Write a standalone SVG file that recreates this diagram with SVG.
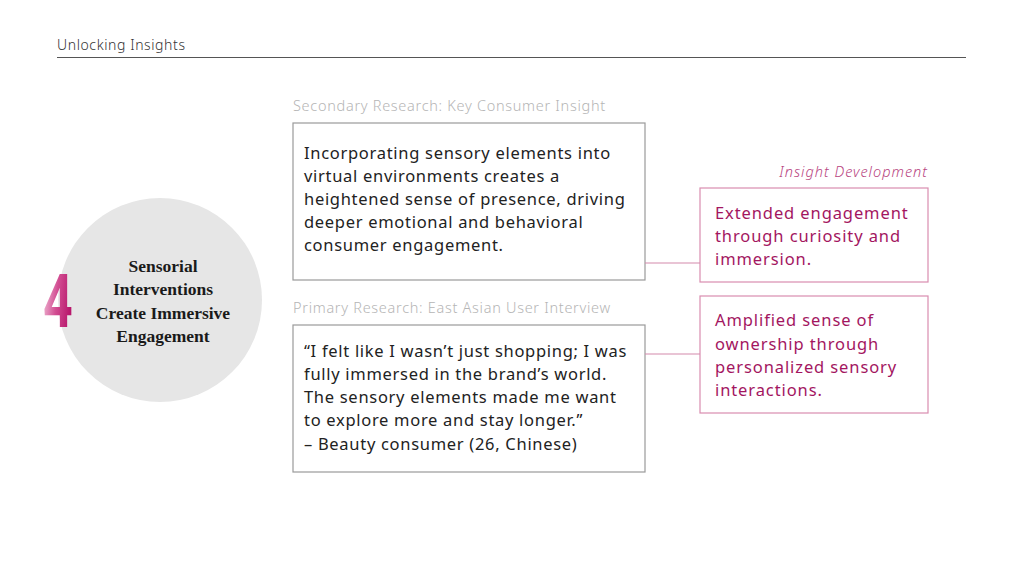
<svg xmlns="http://www.w3.org/2000/svg" width="1024" height="582" viewBox="0 0 1024 582">
<defs>
<linearGradient id="g4" x1="0" y1="0" x2="1" y2="0.3">
<stop offset="0" stop-color="#f6d3e4"/>
<stop offset="0.55" stop-color="#d24d92"/>
<stop offset="1" stop-color="#b8186c"/>
</linearGradient>
<style>
.hdr{font-family:"Noto Sans","Liberation Sans",sans-serif;font-size:14px;fill:#333;font-weight:300;letter-spacing:0.6px}
.lbl{font-family:"Noto Sans","Liberation Sans",sans-serif;font-size:14.5px;fill:#b5b5b5;font-weight:300;letter-spacing:0.7px}
.body{font-family:"Noto Sans","Liberation Sans",sans-serif;font-size:16.5px;fill:#222;letter-spacing:0.7px}
.ins{font-family:"Noto Sans","Liberation Sans",sans-serif;font-size:16.5px;fill:#a3165f;letter-spacing:0.9px}
.insl{font-family:"Noto Sans","Liberation Sans",sans-serif;font-size:14.5px;fill:#b8457f;font-style:italic;font-weight:300;letter-spacing:1px}
.ttl{font-family:"Liberation Serif","DejaVu Serif",serif;font-size:17.5px;font-weight:bold;fill:#1a1a1a}
.box{fill:#fff;stroke:#9a9a9a;stroke-width:1.2}
.ibox{fill:#fff;stroke:#d98db0;stroke-width:1.2}
.conn{stroke:#d48aab;stroke-width:1.2;fill:none}
</style>
</defs>
<rect width="1024" height="582" fill="#fff"/>
<g id="header">
<text class="hdr" x="57" y="50">Unlocking Insights</text>
<line x1="57" y1="57.5" x2="966" y2="57.5" stroke="#555" stroke-width="1"/>
</g>
<g id="topic">
<circle cx="160" cy="300" r="102" fill="#e6e6e6"/>
<text x="0" y="0" transform="translate(43,327) scale(0.7,1)" font-family="Roboto,'DejaVu Sans',sans-serif" font-weight="bold" font-size="74" fill="url(#g4)">4</text>
<text class="ttl" text-anchor="middle"><tspan x="163" y="272">Sensorial</tspan><tspan x="163" y="295">Interventions</tspan><tspan x="163" y="319">Create Immersive</tspan><tspan x="163" y="342">Engagement</tspan></text>
</g>
<g id="secondary">
<text class="lbl" x="293" y="111">Secondary Research: Key Consumer Insight</text>
<rect class="box" x="293" y="123" width="352" height="157"/>
<text class="body"><tspan x="304" y="159">Incorporating sensory elements into</tspan><tspan x="304" y="182">virtual environments creates a</tspan><tspan x="304" y="205">heightened sense of presence, driving</tspan><tspan x="304" y="228">deeper emotional and behavioral</tspan><tspan x="304" y="251">consumer engagement.</tspan></text>
</g>
<g id="primary">
<text class="lbl" x="293" y="313">Primary Research: East Asian User Interview</text>
<rect class="box" x="293" y="325" width="352" height="147"/>
<text class="body"><tspan x="304" y="357">“I felt like I wasn’t just shopping; I was</tspan><tspan x="304" y="380">fully immersed in the brand’s world.</tspan><tspan x="304" y="403">The sensory elements made me want</tspan><tspan x="304" y="426">to explore more and stay longer.”</tspan><tspan x="304" y="450">– Beauty consumer (26, Chinese)</tspan></text>
</g>
<g id="insight-label">
<text class="insl" x="928" y="177" text-anchor="end">Insight Development</text>
</g>
<g id="insight1">
<rect class="ibox" x="700" y="188" width="228" height="94"/>
<text class="ins"><tspan x="715" y="219">Extended engagement</tspan><tspan x="715" y="242">through curiosity and</tspan><tspan x="715" y="265">immersion.</tspan></text>
</g>
<g id="insight2">
<rect class="ibox" x="700" y="296" width="228" height="117"/>
<text class="ins"><tspan x="715" y="326">Amplified sense of</tspan><tspan x="715" y="350">ownership through</tspan><tspan x="715" y="373">personalized sensory</tspan><tspan x="715" y="396">interactions.</tspan></text>
</g>
<g id="connectors">
<line class="conn" x1="645" y1="263" x2="700" y2="263"/>
<line class="conn" x1="645" y1="354" x2="700" y2="354"/>
</g>
</svg>
